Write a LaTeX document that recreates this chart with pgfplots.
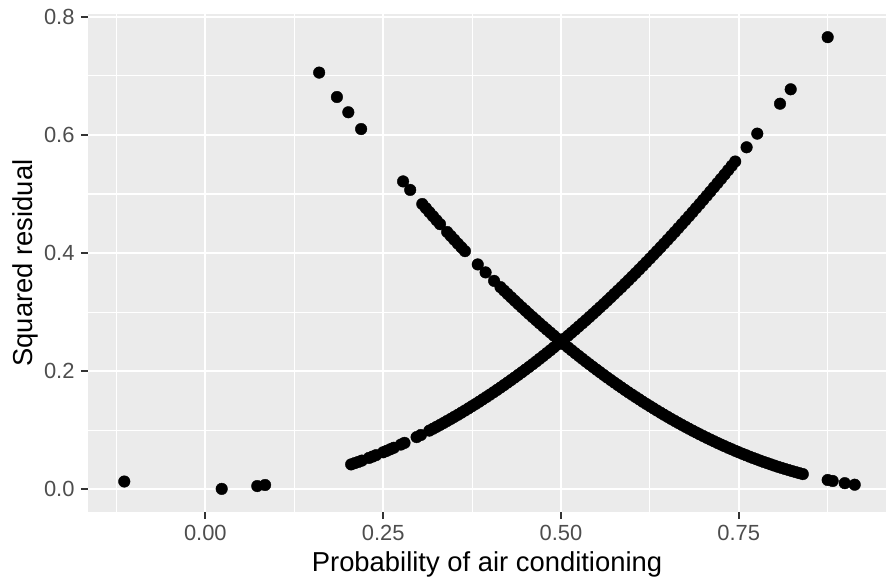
\documentclass[border=0pt]{standalone}
\usepackage{fontspec}
\setmainfont{Liberation Sans}
\usepackage{pgfplots}
\pgfplotsset{compat=1.18}

\definecolor{panelbg}{HTML}{EBEBEB}
\definecolor{tickgray}{HTML}{4D4D4D}
\definecolor{tickline}{HTML}{333333}

% residual = 0 - p  (no air conditioning)
\pgfplotstableread{
x y
-0.114 0.0130
0.023 0.0005
0.073 0.0053
0.084 0.0071
0.205 0.0420
0.210 0.0441
0.215 0.0462
0.220 0.0484
0.230 0.0529
0.235 0.0552
0.240 0.0576
0.250 0.0625
0.255 0.0650
0.260 0.0676
0.265 0.0702
0.275 0.0756
0.280 0.0784
0.297 0.0882
0.303 0.0918
0.315 0.0992
0.320 0.1024
0.325 0.1056
0.330 0.1089
0.335 0.1122
0.340 0.1156
0.345 0.1190
0.350 0.1225
0.355 0.1260
0.360 0.1296
0.365 0.1332
0.370 0.1369
0.375 0.1406
0.380 0.1444
0.385 0.1482
0.390 0.1521
0.395 0.1560
0.400 0.1600
0.405 0.1640
0.410 0.1681
0.415 0.1722
0.420 0.1764
0.425 0.1806
0.430 0.1849
0.435 0.1892
0.440 0.1936
0.445 0.1980
0.450 0.2025
0.455 0.2070
0.460 0.2116
0.465 0.2162
0.470 0.2209
0.475 0.2256
0.480 0.2304
0.485 0.2352
0.490 0.2401
0.495 0.2450
0.500 0.2500
0.505 0.2550
0.510 0.2601
0.515 0.2652
0.520 0.2704
0.525 0.2756
0.530 0.2809
0.535 0.2862
0.540 0.2916
0.545 0.2970
0.550 0.3025
0.555 0.3080
0.560 0.3136
0.565 0.3192
0.570 0.3249
0.575 0.3306
0.580 0.3364
0.585 0.3422
0.590 0.3481
0.595 0.3540
0.600 0.3600
0.605 0.3660
0.610 0.3721
0.615 0.3782
0.620 0.3844
0.625 0.3906
0.630 0.3969
0.635 0.4032
0.640 0.4096
0.645 0.4160
0.650 0.4225
0.655 0.4290
0.660 0.4356
0.665 0.4422
0.670 0.4489
0.675 0.4556
0.680 0.4624
0.685 0.4692
0.690 0.4761
0.695 0.4830
0.700 0.4900
0.705 0.4970
0.710 0.5041
0.715 0.5112
0.720 0.5184
0.725 0.5256
0.730 0.5329
0.735 0.5402
0.740 0.5476
0.745 0.5550
0.761 0.5791
0.776 0.6022
0.808 0.6529
0.823 0.6773
0.875 0.7656
}\noac

% residual = 1 - p  (air conditioning)
\pgfplotstableread{
x y
0.160 0.7056
0.185 0.6642
0.201 0.6384
0.219 0.6100
0.278 0.5213
0.288 0.5069
0.305 0.4830
0.310 0.4761
0.315 0.4692
0.320 0.4624
0.325 0.4556
0.330 0.4489
0.340 0.4356
0.345 0.4290
0.350 0.4225
0.355 0.4160
0.360 0.4096
0.365 0.4032
0.383 0.3807
0.394 0.3672
0.406 0.3528
0.415 0.3422
0.420 0.3364
0.425 0.3306
0.430 0.3249
0.435 0.3192
0.440 0.3136
0.445 0.3080
0.450 0.3025
0.455 0.2970
0.460 0.2916
0.465 0.2862
0.470 0.2809
0.475 0.2756
0.480 0.2704
0.485 0.2652
0.490 0.2601
0.495 0.2550
0.500 0.2500
0.505 0.2450
0.510 0.2401
0.515 0.2352
0.520 0.2304
0.525 0.2256
0.530 0.2209
0.535 0.2162
0.540 0.2116
0.545 0.2070
0.550 0.2025
0.555 0.1980
0.560 0.1936
0.565 0.1892
0.570 0.1849
0.575 0.1806
0.580 0.1764
0.585 0.1722
0.590 0.1681
0.595 0.1640
0.600 0.1600
0.605 0.1560
0.610 0.1521
0.615 0.1482
0.620 0.1444
0.625 0.1406
0.630 0.1369
0.635 0.1332
0.640 0.1296
0.645 0.1260
0.650 0.1225
0.655 0.1190
0.660 0.1156
0.665 0.1122
0.670 0.1089
0.675 0.1056
0.680 0.1024
0.685 0.0992
0.690 0.0961
0.695 0.0930
0.700 0.0900
0.705 0.0870
0.710 0.0841
0.715 0.0812
0.720 0.0784
0.725 0.0756
0.730 0.0729
0.735 0.0702
0.740 0.0676
0.745 0.0650
0.750 0.0625
0.755 0.0600
0.760 0.0576
0.765 0.0552
0.770 0.0529
0.775 0.0506
0.780 0.0484
0.785 0.0462
0.790 0.0441
0.795 0.0420
0.800 0.0400
0.805 0.0380
0.810 0.0361
0.815 0.0342
0.820 0.0324
0.825 0.0306
0.830 0.0289
0.835 0.0272
0.840 0.0256
0.875 0.0156
0.882 0.0139
0.899 0.0102
0.913 0.0076
}\withac

\begin{document}
\begin{tikzpicture}
\begin{axis}[
    scale only axis,
    width=798bp, height=497bp,
    xmin=-0.165, xmax=0.957,
    ymin=-0.0378, ymax=0.804,
    axis background/.style={fill=panelbg},
    axis line style={draw=none},
    xtick={0,0.25,0.5,0.75},
    xticklabels={0.00,0.25,0.50,0.75},
    minor xtick={-0.125,0.125,0.375,0.625,0.875},
    ytick={0,0.2,0.4,0.6,0.8},
    yticklabels={0.0,0.2,0.4,0.6,0.8},
    minor ytick={0.1,0.3,0.5,0.7},
    xtick pos=bottom, ytick pos=left,
    grid=both,
    major grid style={white, line width=2.2bp},
    minor grid style={white, line width=1.1bp},
    tick align=outside,
    major tick length=7bp,
    minor tick length=0pt,
    tick style={tickline, line width=2bp},
    /pgf/number format/assume math mode=true,
    ticklabel style={font=\fontsize{22}{26}\selectfont, text=tickgray},
    xticklabel style={yshift=-3bp},
    yticklabel style={xshift=-3bp},
    label style={font=\fontsize{27.5}{32}\selectfont},
    xlabel={Probability of air conditioning},
    ylabel={Squared residual},
    xlabel style={yshift=-4bp},
    ylabel style={yshift=-1bp},
]
\addplot[only marks, mark=*, mark size=5.8bp, mark options={fill=black, draw=black}] table {\noac};
\addplot[only marks, mark=*, mark size=5.8bp, mark options={fill=black, draw=black}] table {\withac};
\end{axis}
\path ([shift={(-88bp,-66bp)}]current axis.south west) rectangle ([shift={(5bp,14.5bp)}]current axis.north east);
\end{tikzpicture}
\end{document}
